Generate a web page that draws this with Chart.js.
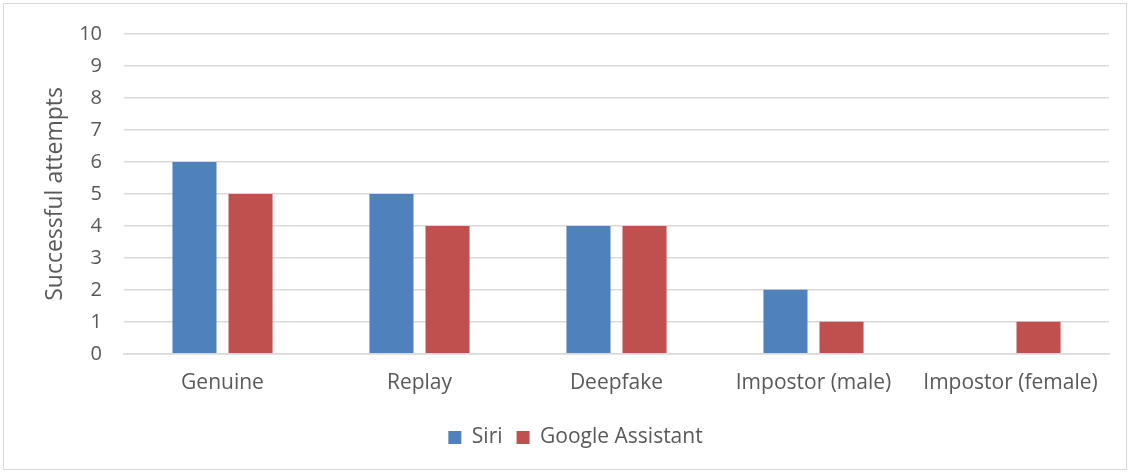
<!DOCTYPE html>
<html>
<head>
<meta charset="utf-8">
<script src="https://cdn.jsdelivr.net/npm/chart.js@4/dist/chart.umd.min.js"></script>
<style>
html,body{margin:0;padding:0;background:#fff;}
#wrap{position:absolute;left:0;top:0;width:1132px;height:475px;}
#frame{position:absolute;left:3px;top:3px;width:1124px;height:467px;border:1px solid #d9d9d9;box-sizing:border-box;pointer-events:none;}
</style>
</head>
<body>
<div id="wrap"><canvas id="c" width="1132" height="475"></canvas><div id="frame"></div></div>
<script>
const categories = ["Genuine", "Replay", "Deepfake", "Impostor (male)", "Impostor (female)"];
const siri = [6, 5, 4, 2, 0];
const googleAssistant = [5, 4, 4, 1, 1];
const yTicks = [0,1,2,3,4,5,6,7,8,9,10];

const FONT = "'Open Sans', 'Liberation Sans', sans-serif";
Chart.defaults.font.family = FONT;
Chart.defaults.color = '#595959';

new Chart(document.getElementById('c'), {
  type: 'bar',
  data: {
    labels: categories,
    datasets: [
      {label: 'Siri', data: siri, backgroundColor: '#4f81bd', borderColor: '#4f81bd', borderWidth: 0},
      {label: 'Google Assistant', data: googleAssistant, backgroundColor: '#c0504d', borderColor: '#c0504d', borderWidth: 0}
    ]
  },
  options: {
    responsive: false,
    animation: false,
    devicePixelRatio: 1,
    categoryPercentage: 0.569,
    barPercentage: 0.786,
    layout: {padding: {left: 42, right: 23, top: 19, bottom: 17}},
    plugins: {
      legend: {
        position: 'bottom',
        labels: {boxWidth: 13, boxHeight: 13, padding: 14, font: {size: 21, family: FONT}, color: '#595959'}
      },
      tooltip: {enabled: false}
    },
    scales: {
      x: {
        grid: {display: false, drawTicks: false},
        border: {display: true, color: '#d9d9d9', width: 1.5},
        ticks: {font: {size: 21, family: FONT}, color: '#595959', padding: 17}
      },
      y: {
        min: 0, max: 10,
        afterBuildTicks: (s) => { s.ticks = yTicks.map(v => ({value: v})); },
        afterFit: (s) => { s.width = 82; },
        grid: {color: '#d9d9d9', lineWidth: 1.5, drawTicks: false},
        border: {display: false},
        ticks: {font: {size: 20, family: FONT}, color: '#595959', padding: 22},
        title: {display: true, text: 'Successful attempts', font: {size: 23, family: FONT}, color: '#595959', padding: {top: 0, bottom: 0}}
      }
    }
  }
});
</script>
</body>
</html>
